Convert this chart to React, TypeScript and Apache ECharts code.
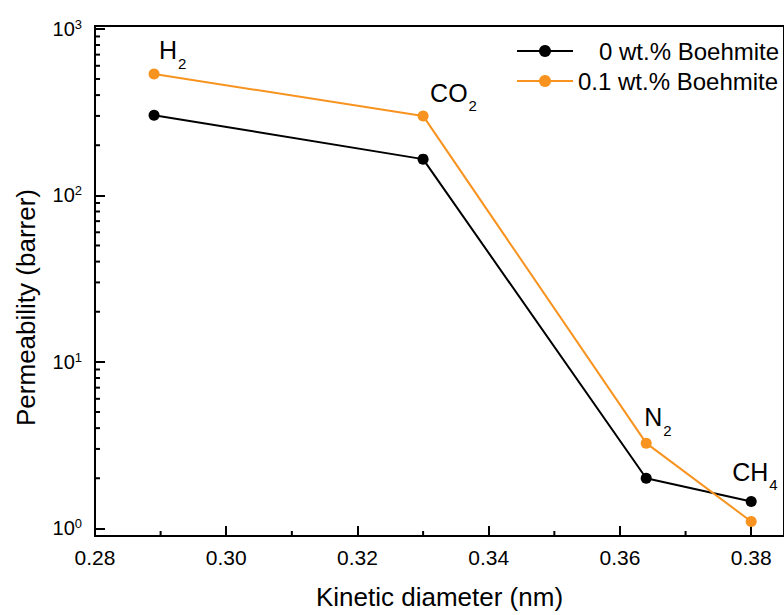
import React, { useEffect, useRef } from 'react';
import * as echarts from 'echarts';

const FONT = '"Liberation Sans", Arial, Helvetica, sans-serif';

// ---- data ----
const gasNames = ['H2', 'CO2', 'N2', 'CH4'];
const kineticDiameter = [0.289, 0.33, 0.364, 0.38];
const permeability0 = [303, 165, 2.0, 1.45];
const permeability01 = [535, 300, 3.25, 1.1];
const seriesNames = ['0 wt.% Boehmite', '0.1 wt.% Boehmite'];
const gasLabelMain = ['H', 'CO', 'N', 'CH'];
const gasLabelSub = ['2', '2', '2', '4'];
const gasLabelAnchorSeries = [1, 1, 1, 0];
const xMinorTickValues = [0.29, 0.31, 0.33, 0.35, 0.37];
const yMinorTickValues = [2, 3, 4, 5, 6, 7, 8, 9, 20, 30, 40, 50, 60, 70, 80, 90, 200, 300, 400, 500, 600, 700, 800, 900];

// ---- styles ----
const BLACK = '#000000';
const ORANGE = '#F7931E';
const X_MIN = 0.28;
const X_MAX = 0.385;
const Y_MIN = 0.9;
const Y_MAX = 1040;
const LABEL_OFFSETS = [[5, -33], [7, -32], [-2, -35], [-19, -39]];
const MAIN_FS = 25;
const SUB_FS = 15;

const isPow10 = (v: number) => {
  const l = Math.log10(v);
  return Math.abs(l - Math.round(l)) < 1e-6;
};

const legendCommon = {
  left: 516,
  padding: 0,
  itemWidth: 56,
  itemHeight: 15,
  textStyle: { fontSize: 24, color: BLACK, fontFamily: FONT },
};

const option: any = {
  animation: false,
  backgroundColor: '#ffffff',
  textStyle: { fontFamily: FONT },
  grid: {
    left: 95,
    top: 26,
    width: 694,
    height: 515,
    show: true,
    borderColor: BLACK,
    borderWidth: 2,
    backgroundColor: 'transparent',
  },
  legend: [
    {
      ...legendCommon,
      data: [{ name: seriesNames[0], textStyle: { padding: [0, 0, 0, 21] } }],
      top: 39,
    },
    {
      ...legendCommon,
      data: [seriesNames[1]],
      top: 69,
    },
  ],
  xAxis: {
    type: 'value',
    min: X_MIN,
    max: X_MAX,
    interval: 0.02,
    axisLine: { lineStyle: { color: BLACK, width: 2 } },
    axisTick: { inside: true, length: 10, lineStyle: { color: BLACK, width: 2 } },
    axisLabel: {
      fontSize: 21,
      color: BLACK,
      margin: 11,
      fontFamily: FONT,
      showMaxLabel: false,
      formatter: (v: number) => v.toFixed(2),
    },
    splitLine: { show: false },
    name: 'Kinetic diameter (nm)',
    nameLocation: 'middle',
    nameGap: 48,
    nameTextStyle: { fontSize: 26, color: BLACK, fontFamily: FONT },
  },
  yAxis: {
    type: 'log',
    logBase: 10,
    min: Y_MIN,
    max: Y_MAX,
    axisLine: { lineStyle: { color: BLACK, width: 2 } },
    axisTick: { inside: true, length: 10, lineStyle: { color: BLACK, width: 2 } },
    axisLabel: {
      margin: 13,
      color: BLACK,
      fontFamily: FONT,
      formatter: (v: number) => (isPow10(v) ? `{b|10}{e|${Math.round(Math.log10(v))}}` : ''),
      rich: {
        b: { fontSize: 20, lineHeight: 22, color: BLACK, fontFamily: FONT },
        e: { fontSize: 13, lineHeight: 13, verticalAlign: 'top', color: BLACK, fontFamily: FONT },
      },
    },
    splitLine: { show: false },
    minorTick: { show: false },
    name: 'Permeability (barrer)',
    nameLocation: 'middle',
    nameRotate: 90,
    nameGap: 56,
    nameTextStyle: { fontSize: 26, color: BLACK, fontFamily: FONT, padding: [0, 53, 0, 0] },
  },
  series: [
    {
      name: seriesNames[0],
      type: 'line',
      data: kineticDiameter.map((x, i) => [x, permeability0[i]]),
      symbol: 'circle',
      symbolSize: 11,
      color: BLACK,
      lineStyle: { color: BLACK, width: 2 },
      itemStyle: { color: BLACK },
      z: 3,
    },
    {
      name: seriesNames[1],
      type: 'line',
      data: kineticDiameter.map((x, i) => [x, permeability01[i]]),
      symbol: 'circle',
      symbolSize: 11,
      color: ORANGE,
      lineStyle: { color: ORANGE, width: 2 },
      itemStyle: { color: ORANGE },
      z: 4,
    },
    {
      type: 'custom',
      silent: true,
      data: yMinorTickValues.map((v) => [X_MIN, v]),
      renderItem: (params: any, api: any) => {
        const p = api.coord([api.value(0), api.value(1)]);
        return {
          type: 'line',
          shape: { x1: p[0], y1: p[1], x2: p[0] + 5, y2: p[1] },
          style: { stroke: BLACK, lineWidth: 2 },
        };
      },
      z: 5,
    },
    {
      type: 'custom',
      silent: true,
      data: xMinorTickValues.map((v) => [v, Y_MIN]),
      renderItem: (params: any, api: any) => {
        const p = api.coord([api.value(0), api.value(1)]);
        return {
          type: 'line',
          shape: { x1: p[0], y1: p[1], x2: p[0], y2: p[1] - 5 },
          style: { stroke: BLACK, lineWidth: 2 },
        };
      },
      z: 5,
    },
  ],
};

export default function App() {
  const ref = useRef<HTMLDivElement>(null);
  useEffect(() => {
    const chart = echarts.init(ref.current!, null, { renderer: 'svg' });
    chart.setOption(option);
    const ctx = document.createElement('canvas').getContext('2d')!;
    ctx.font = `${MAIN_FS}px ${FONT}`;
    const graphics: any[] = [];
    gasNames.forEach((g, i) => {
      const val = gasLabelAnchorSeries[i] === 0 ? permeability0[i] : permeability01[i];
      const p = chart.convertToPixel({ gridIndex: 0 }, [kineticDiameter[i], val]) as number[];
      const [dx, dy] = LABEL_OFFSETS[i];
      const x = p[0] + dx;
      const capTop = p[1] + dy;
      const w = ctx.measureText(gasLabelMain[i]).width;
      graphics.push({
        type: 'text',
        x,
        y: capTop - 3.3,
        style: { text: gasLabelMain[i], fontSize: MAIN_FS, fontFamily: FONT, fill: BLACK, align: 'left', verticalAlign: 'top' },
        z: 10,
      });
      graphics.push({
        type: 'text',
        x: x + w + 1,
        y: capTop + 14.5,
        style: { text: gasLabelSub[i], fontSize: SUB_FS, fontFamily: FONT, fill: BLACK, align: 'left', verticalAlign: 'top' },
        z: 10,
      });
    });
    chart.setOption({ graphic: graphics });
    return () => chart.dispose();
  }, []);
  return (
    <div
      ref={ref}
      style={{ position: 'absolute', left: 0, top: 0, width: 784, height: 615, background: '#fff' }}
    />
  );
}
